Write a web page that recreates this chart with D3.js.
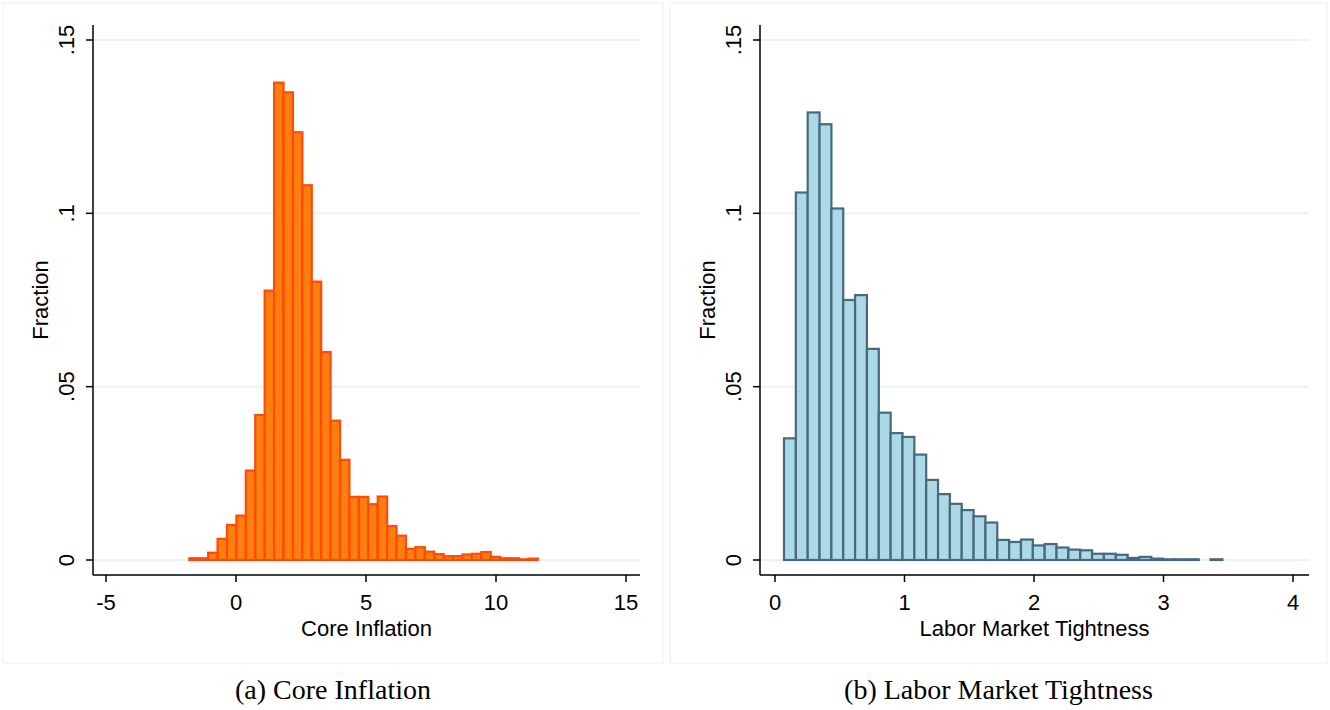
<!DOCTYPE html>
<html>
<head>
  <title>Histograms</title>
  <script src="https://d3js.org/d3.v7.min.js"></script>
  <style>
    body { margin: 0; background: #fff; }
    .tick-label { font-family: "Liberation Sans", Arial, sans-serif; font-size: 22px; fill: #000; }
    .axis-title { font-family: "Liberation Sans", Arial, sans-serif; font-size: 22px; fill: #000; }
    .caption { font-family: "Liberation Serif", "Times New Roman", serif; font-size: 28px; fill: #000; }
  </style>
</head>
<body>
  <script>
    // Core inflation histogram: 37 bins starting at -1.796, width 0.3623
    var inflStart = -1.796;
    var inflWidth = 0.3623;
    var inflFrac = [0.0005, 0.0005, 0.0021, 0.0061, 0.0101, 0.0128, 0.0258, 0.0418, 0.0777,
      0.1377, 0.1349, 0.1234, 0.1081, 0.0803, 0.0600, 0.0402, 0.0289, 0.0182, 0.0182,
      0.0161, 0.0183, 0.0098, 0.0070, 0.0032, 0.0037, 0.0024, 0.0017, 0.0011, 0.0011,
      0.0016, 0.0018, 0.0023, 0.0009, 0.0005, 0.0005, 0.0002, 0.0004];
    var inflTicks = [-5, 0, 5, 10, 15];

    // Labor market tightness histogram: 37 bins starting at 0.0695, width 0.0915
    var tightStart = 0.0695;
    var tightWidth = 0.0915;
    var tightFrac = [0.0351, 0.1060, 0.1291, 0.1257, 0.1014, 0.0750, 0.0764, 0.0609, 0.0425,
      0.0366, 0.0355, 0.0304, 0.0231, 0.0190, 0.0162, 0.0144, 0.0126, 0.0108, 0.0058,
      0.0052, 0.0059, 0.0042, 0.0046, 0.0036, 0.0030, 0.0028, 0.0018, 0.0018, 0.0015,
      0.0006, 0.0009, 0.0004, 0.0002, 0.0002, 0.0002, 0, 0.0002];
    var tightTicks = [0, 1, 2, 3, 4];

    var yTicks = [0, 0.05, 0.1, 0.15];
    var yTickLabels = ["0", ".05", ".1", ".15"];

    var svg = d3.select("body").append("svg")
      .attr("width", 1330)
      .attr("height", 710);

    var panels = [
      {
        left: 3, right: 663, axisX: 93, axisEnd: 640,
        xDomain: [-5, 15], xRange: [106, 626],
        start: inflStart, width: inflWidth, values: inflFrac, ticks: inflTicks,
        fill: "#ff7f0e", stroke: "#ff4b0a",
        title: "Core Inflation", caption: "(a) Core Inflation"
      },
      {
        left: 670, right: 1327, axisX: 760, axisEnd: 1309,
        xDomain: [0, 4], xRange: [775, 1293],
        start: tightStart, width: tightWidth, values: tightFrac, ticks: tightTicks,
        fill: "#add8e6", stroke: "#46697f",
        title: "Labor Market Tightness", caption: "(b) Labor Market Tightness"
      }
    ];

    var y = d3.scaleLinear().domain([0, 0.15]).range([560, 40]);
    var axisY = 575;

    panels.forEach(function(p) {
      var g = svg.append("g");

      // panel frame
      g.append("rect")
        .attr("x", p.left).attr("y", 3)
        .attr("width", p.right - p.left).attr("height", 660)
        .attr("fill", "none")
        .attr("stroke", "#eeeeee")
        .attr("stroke-width", 1);

      var x = d3.scaleLinear().domain(p.xDomain).range(p.xRange);

      // gridlines
      g.selectAll(".grid")
        .data(yTicks)
        .enter().append("line")
        .attr("x1", p.axisX).attr("x2", p.axisEnd)
        .attr("y1", function(d) { return y(d); })
        .attr("y2", function(d) { return y(d); })
        .attr("stroke", "#eaf2f3")
        .attr("stroke-width", 2);

      // bars
      var bins = p.values.map(function(v, i) {
        return { x0: p.start + i * p.width, x1: p.start + (i + 1) * p.width, v: v };
      });
      g.selectAll(".bar")
        .data(bins.filter(function(d) { return d.v > 0; }))
        .enter().append("rect")
        .attr("x", function(d) { return x(d.x0); })
        .attr("width", function(d) { return x(d.x1) - x(d.x0); })
        .attr("y", function(d) { return y(d.v); })
        .attr("height", function(d) { return y(0) - y(d.v); })
        .attr("fill", p.fill)
        .attr("stroke", p.stroke)
        .attr("stroke-width", 2.2);

      // y axis
      g.append("line")
        .attr("x1", p.axisX).attr("x2", p.axisX)
        .attr("y1", 25).attr("y2", axisY)
        .attr("stroke", "#000").attr("stroke-width", 1.5);
      yTicks.forEach(function(t, i) {
        g.append("line")
          .attr("x1", p.axisX - 7).attr("x2", p.axisX)
          .attr("y1", y(t)).attr("y2", y(t))
          .attr("stroke", "#000").attr("stroke-width", 1.5);
        g.append("text")
          .attr("class", "tick-label")
          .attr("transform", "translate(" + (p.axisX - 19) + "," + y(t) + ") rotate(-90)")
          .attr("text-anchor", "middle")
          .text(yTickLabels[i]);
      });
      g.append("text")
        .attr("class", "axis-title")
        .attr("transform", "translate(" + (p.axisX - 45) + ",300) rotate(-90)")
        .attr("text-anchor", "middle")
        .text("Fraction");

      // x axis
      g.append("line")
        .attr("x1", p.axisX).attr("x2", p.axisEnd)
        .attr("y1", axisY).attr("y2", axisY)
        .attr("stroke", "#000").attr("stroke-width", 1.5);
      p.ticks.forEach(function(t) {
        g.append("line")
          .attr("x1", x(t)).attr("x2", x(t))
          .attr("y1", axisY).attr("y2", axisY + 7)
          .attr("stroke", "#000").attr("stroke-width", 1.5);
        g.append("text")
          .attr("class", "tick-label")
          .attr("x", x(t)).attr("y", axisY + 35)
          .attr("text-anchor", "middle")
          .text(t);
      });
      g.append("text")
        .attr("class", "axis-title")
        .attr("x", (p.axisX + p.axisEnd) / 2).attr("y", 636)
        .attr("text-anchor", "middle")
        .text(p.title);

      // caption below the panel
      svg.append("text")
        .attr("class", "caption")
        .attr("x", (p.left + p.right) / 2).attr("y", 699)
        .attr("text-anchor", "middle")
        .text(p.caption);
    });
  </script>
</body>
</html>
